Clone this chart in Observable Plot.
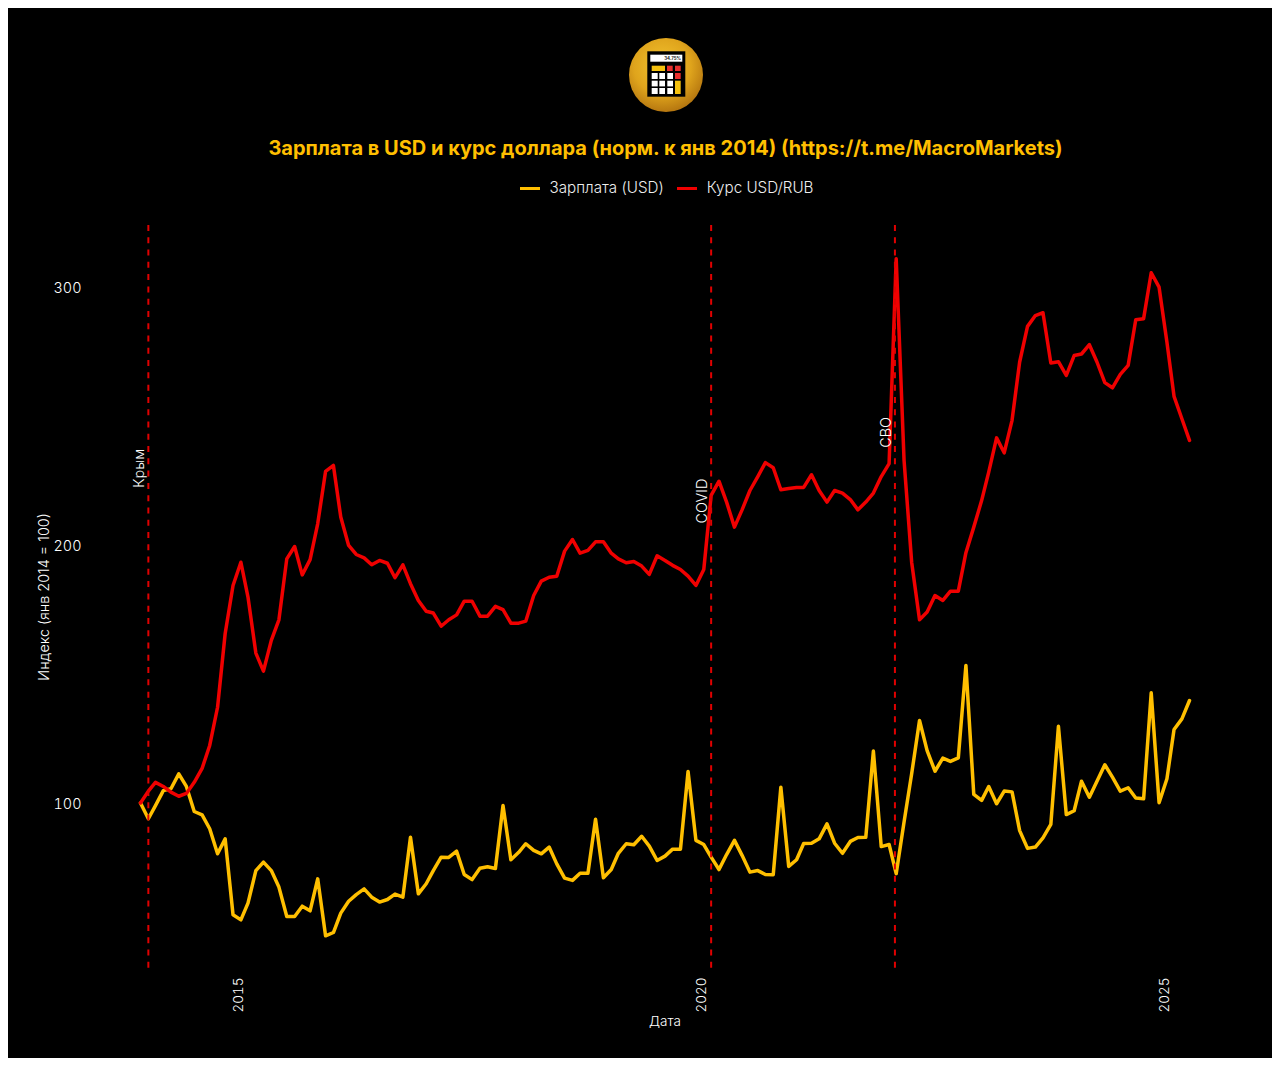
<!DOCTYPE html>
<html lang="ru">
<head>
<meta charset="utf-8">
<script src="https://cdn.jsdelivr.net/npm/d3@7"></script>
<script src="https://cdn.jsdelivr.net/npm/@observablehq/plot@0.6"></script>
<style>
  html, body { margin: 0; padding: 0; background: #fff; }
  body { margin: 8px; }
  #panel { position: relative; width: 1264px; height: 1050px; background: #000; color: #eee; font-family: Inter, "Open Sans", sans-serif; overflow: hidden; }
  #header { position: relative; height: 207px; }
  #logo { position: absolute; left: 617px; top: 26px; }
  #title { position: absolute; left: 0; width: 100%; top: 126px; text-align: center; color: #FFBF00; font-weight: 700; font-size: 20px; line-height: 28px; padding-left: 51px; box-sizing: border-box; }
  #legend { position: absolute; left: 0; width: 100%; top: 171px; display: flex; justify-content: center; align-items: center; font-size: 15.2px; line-height: 18px; font-weight: 300; padding-left: 53px; box-sizing: border-box; }
  .sw { display: inline-block; width: 20px; height: 3px; margin-right: 10px; }
  .it { margin-right: 13px; }
  svg { display: block; }
</style>
</head>
<body>
<div id="panel">
  <div id="header">
    <svg id="logo" width="82" height="82" viewBox="0 0 82 82">
      <defs>
        <radialGradient id="gold" cx="45%" cy="38%" r="70%">
          <stop offset="0%" stop-color="#f4c430"/>
          <stop offset="55%" stop-color="#dfa41c"/>
          <stop offset="100%" stop-color="#a8680c"/>
        </radialGradient>
      </defs>
      <circle cx="41" cy="41" r="37" fill="url(#gold)"/>
      <rect x="22.3" y="17.3" width="38" height="45.4" fill="#000"/>
      <rect x="25.3" y="20.7" width="32" height="7" fill="#fff"/>
      <text x="56" y="26" text-anchor="end" font-size="4.4" font-weight="700" fill="#222" font-family="Inter">34.75%</text>
      <rect x="26.7" y="31.7" width="13.3" height="5.3" fill="#f5c10e"/>
      <rect x="42" y="31.7" width="5.7" height="5.3" fill="#e8302e"/>
      <rect x="50" y="31.7" width="5.7" height="5.3" fill="#e8302e"/>
      <g fill="#fff">
        <rect x="26.7" y="39" width="6" height="6"/><rect x="34.3" y="39" width="5.7" height="6"/><rect x="42.3" y="39" width="5.7" height="6"/>
        <rect x="26.7" y="46.7" width="6" height="5.7"/><rect x="34.3" y="46.7" width="5.7" height="5.7"/><rect x="42.3" y="46.7" width="5.7" height="5.7"/>
        <rect x="26.7" y="54" width="6" height="6"/><rect x="34.3" y="54" width="5.7" height="6"/><rect x="42.3" y="54" width="5.7" height="6"/>
      </g>
      <rect x="50" y="39" width="5.7" height="6" fill="#e8302e"/>
      <rect x="50" y="46.7" width="5.7" height="13.3" fill="#f5c10e"/>
    </svg>
    <div id="title">Зарплата в USD и курс доллара (норм. к янв 2014) (https://t.me/MacroMarkets)</div>
    <div id="legend">
      <span class="sw" style="background:#FFBF00"></span><span class="it">Зарплата (USD)</span>
      <span class="sw" style="background:#F00000"></span><span>Курс USD/RUB</span>
    </div>
  </div>
  <div id="chart"></div>
</div>
<script>
const wage = [100,93.9,99,104.8,105.5,111.3,106.4,96.7,95.4,90,80.3,86.1,
  56.7,54.7,61.2,73.8,77.1,73.8,67.4,56,56,60,58.2,70.6,
  48.5,49.8,57.3,61.9,64.5,66.7,63.5,61.6,62.6,64.7,63.5,86.7,
  64.8,68.7,73.8,79,78.9,81.3,72.3,70.3,74.7,75.3,74.6,99,
  78,80.9,84.2,81.6,80.3,82.9,76.4,70.9,70,72.8,72.8,93.7,
  71,74.2,80.5,84.2,83.8,87.1,83.3,77.7,79.4,82.1,82.1,112.2,
  85.5,83.9,79,74.2,80,85.5,79.7,73.2,73.8,72.3,72.2,106.1,
  75.4,78,84.3,84.4,86.1,91.9,84.4,80.5,85.1,86.6,86.7,120.1,
  83.1,83.9,72.6,92.6,111.3,132,120.3,112.3,117.4,116.1,117.5,153.3,
  103.3,101,106.4,99.7,104.6,104.3,89.3,82.4,82.9,86.5,91.7,129.7,
  95.5,97,108.4,102.2,108.4,114.8,110,104.6,105.9,101.9,101.6,142.7,
  100.1,109.4,128.5,132.6,139.7];
const rate = [100,104.6,108,106.4,104.2,102.6,103.7,108,113.4,122.3,137.1,165.7,
  184.3,193.3,179.8,158.1,151.1,163,171,194.6,199.4,188.4,194.3,208.2,
  228.5,230.8,210.8,199.8,196.3,195,192.3,194,192.9,187.3,192.3,185,
  178.5,174.3,173.6,168.5,171,172.9,178.2,178.2,172.4,172.4,176.2,174.9,
  169.7,169.7,170.5,180.4,186,187.5,187.9,197.6,202.1,196.8,197.9,201.2,
  201.2,196.8,194.6,193.1,193.6,191.8,188.6,195.8,194,192.1,190.5,187.9,
  184.3,190.5,219.2,224.7,216.6,206.9,213.6,221.1,226.5,231.9,229.9,221.4,
  221.9,222.3,222.3,227.2,221.1,216.6,221.1,220.1,217.6,213.6,216.6,220.1,
  226.5,231.5,310.9,232.8,193.3,171,174,180.4,178.5,182.1,182.1,197,
  206.9,217.2,228.2,241.5,235.7,248.3,270.9,284.7,288.9,290,270.5,271,
  265.7,273.4,274,277.6,270.9,262.9,260.9,266.1,269.6,287.3,287.7,305.5,
  299.9,278.6,257.6,248.9,240.5];
const months = d3.utcMonth.range(new Date(Date.UTC(2014,0,1)), new Date(Date.UTC(2025,5,1)));
const eventNames = ["Крым","COVID","СВО"];
const eventDates = [new Date(Date.UTC(2014,1,1)), new Date(Date.UTC(2020,2,1)), new Date(Date.UTC(2022,1,24))];
const eventLabelY = [229.7,217,243.6];
const xTicks = [new Date(Date.UTC(2015,0,1)), new Date(Date.UTC(2020,0,1)), new Date(Date.UTC(2025,0,1))];
const yTicks = [100,200,300];

const wageRows = months.map((d,i)=>({date:d,v:wage[i]}));
const rateRows = months.map((d,i)=>({date:d,v:rate[i]}));
const events = eventNames.map((n,i)=>({name:n,date:eventDates[i],y:eventLabelY[i]}));

const chart = Plot.plot({
  width: 1264, height: 843,
  marginLeft: 132, marginRight: 83, marginTop: 10, marginBottom: 90,
  style: {background:"#000", color:"#eee", fontFamily:"Inter, 'Open Sans', sans-serif", fontSize:"14px", fontWeight:300},
  x: {type:"utc", domain:[months[0], months[months.length-1]]},
  y: {domain:[35.85,323.8]},
  marks: [
    Plot.axisX(xTicks, {anchor:"bottom", tickSize:0, tickRotate:-90, textAnchor:"end", tickPadding:9, dx:6, tickFormat:d=>String(d.getUTCFullYear()), label:"Дата", labelAnchor:"center", labelArrow:"none", labelOffset:57, fontSize:13.5, fill:"#fff"}),
    Plot.axisY(yTicks, {anchor:"left", tickSize:0, tickPadding:59, dy:1.5, label:"Индекс (янв 2014 = 100)", labelAnchor:"center", labelArrow:"none", labelOffset:102, fontSize:14.4, fill:"#fff"}),
    Plot.line(wageRows, {x:"date", y:"v", stroke:"#FFBF00", strokeWidth:3.5, curve:"linear", strokeLinejoin:"round"}),
    Plot.line(rateRows, {x:"date", y:"v", stroke:"#F00000", strokeWidth:3.5, curve:"linear", strokeLinejoin:"round"}),
    Plot.ruleX(events, {x:"date", stroke:"#E00000", strokeWidth:2, strokeDasharray:"6,6.28"}),
    Plot.text(events, {x:"date", y:"y", text:"name", rotate:-90, dx:-8.5, fill:"#fff", fontSize:14.4})
  ]
});
document.getElementById("chart").appendChild(chart);
</script>
</body>
</html>
